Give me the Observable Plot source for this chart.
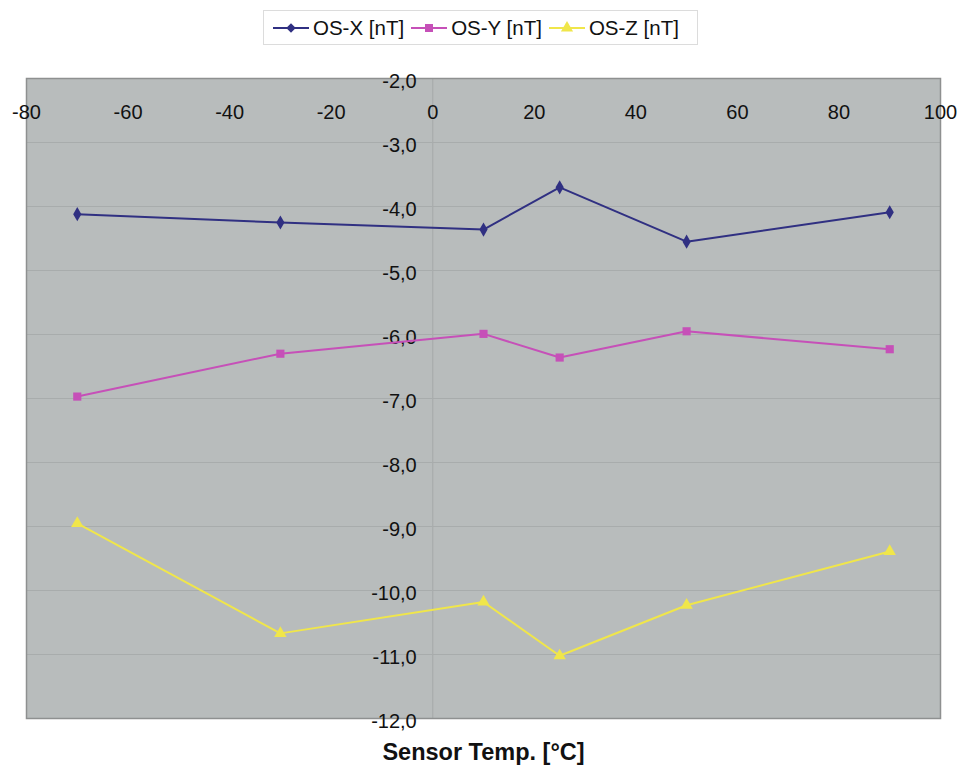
<!DOCTYPE html>
<html>
<head>
<meta charset="utf-8">
<script src="https://cdn.jsdelivr.net/npm/d3@7"></script>
<script src="https://cdn.jsdelivr.net/npm/@observablehq/plot@0.6"></script>
<style>
  html, body { margin: 0; padding: 0; background: #ffffff; }
  body { width: 973px; height: 765px; overflow: hidden; font-family: "Liberation Sans", Arial, sans-serif; }
  #legend { position: relative; height: 56px; }
  #legend .box { position: absolute; left: 263px; top: 10px; width: 435px; height: 35px;
    border: 1px solid #dcdcdc; background: #fff; display: flex; align-items: center; padding-left: 8px; box-sizing: border-box; }
  #legend .item { display: flex; align-items: center; margin-right: 6px; font-size: 20.5px; color: #111; }
  #legend svg { display: block; margin-right: 3px; }
</style>
</head>
<body>
<div id="legend"><div class="box"></div></div>
<div id="chart"></div>
<script>
// ---- data ----
const temps = [-70, -30, 10, 25, 50, 90];
const osX = [-4.12, -4.25, -4.36, -3.70, -4.55, -4.09];
const osY = [-6.97, -6.30, -5.99, -6.36, -5.95, -6.23];
const osZ = [-8.95, -10.67, -10.18, -11.02, -10.23, -9.39];
const seriesNames = ["OS-X [nT]", "OS-Y [nT]", "OS-Z [nT]"];
const seriesColors = ["#303082", "#c650b8", "#f0e64a"];
const seriesSymbols = ["diamond", "square", "triangle"];
const xTicks = [-80, -60, -40, -20, 0, 20, 40, 60, 80, 100];
const yTicks = [-2, -3, -4, -5, -6, -7, -8, -9, -10, -11, -12];
const xTitle = "Sensor Temp. [°C]";

const seriesValues = [osX, osY, osZ];
const rows = [];
seriesValues.forEach((vals, si) => {
  vals.forEach((v, i) => rows.push({series: seriesNames[si], t: temps[i], v}));
});

const fmtY = d => d.toFixed(1).replace(".", ",");
const font = "'Liberation Sans', Arial, sans-serif";

const marks = [
  Plot.frame({fill: "#b8bcbc", stroke: null}),
  Plot.gridY(yTicks, {stroke: "#a8acac", strokeOpacity: 1, strokeWidth: 1.2}),
  Plot.ruleX([0], {stroke: "#a8acac", strokeWidth: 1.2}),
  Plot.frame({stroke: "#8e9090", strokeWidth: 1.5}),
  Plot.text(xTicks, {x: d => d, text: d => String(d), frameAnchor: "top", lineAnchor: "middle", dy: 34, fontSize: 20, fill: "#111"}),
  Plot.text(yTicks, {x: d => 0, y: d => d, text: fmtY, textAnchor: "end", lineAnchor: "middle", dx: -16, dy: 3, fontSize: 20, fill: "#111"}),
  Plot.text([xTitle], {frameAnchor: "bottom", lineAnchor: "middle", dy: 34, fontSize: 23.5, fontWeight: "bold", fill: "#111"})
];
seriesNames.forEach((name, si) => {
  const d = rows.filter(r => r.series === name);
  marks.push(Plot.line(d, {x: "t", y: "v", stroke: seriesColors[si], strokeWidth: 2}));
  marks.push(Plot.dot(d, {x: "t", y: "v", symbol: seriesSymbols[si], fill: seriesColors[si], stroke: null, r: si === 0 ? 4.3 : 4.6}));
});

const chart = Plot.plot({
  width: 973,
  height: 709,
  marginTop: 22,
  marginBottom: 47,
  marginLeft: 26,
  marginRight: 33,
  x: {domain: [-80, 100], axis: null},
  y: {domain: [-12, -2], axis: null},
  style: {fontFamily: font, background: "#ffffff"},
  marks
});
document.getElementById("chart").appendChild(chart);

// legend
const box = document.querySelector("#legend .box");
const symbolTypes = [d3.symbolDiamond2, d3.symbolSquare, d3.symbolTriangle];
seriesNames.forEach((name, si) => {
  const item = document.createElement("div");
  item.className = "item";
  const svg = d3.create("svg").attr("width", 38).attr("height", 20);
  svg.append("line").attr("x1", 1).attr("x2", 37).attr("y1", 10).attr("y2", 10)
    .attr("stroke", seriesColors[si]).attr("stroke-width", 2);
  svg.append("path").attr("transform", "translate(19,10)")
    .attr("d", d3.symbol(symbolTypes[si], si === 0 ? 58 : 64)())
    .attr("fill", seriesColors[si]);
  item.appendChild(svg.node());
  const span = document.createElement("span");
  span.textContent = name;
  item.appendChild(span);
  box.appendChild(item);
});
</script>
</body>
</html>
